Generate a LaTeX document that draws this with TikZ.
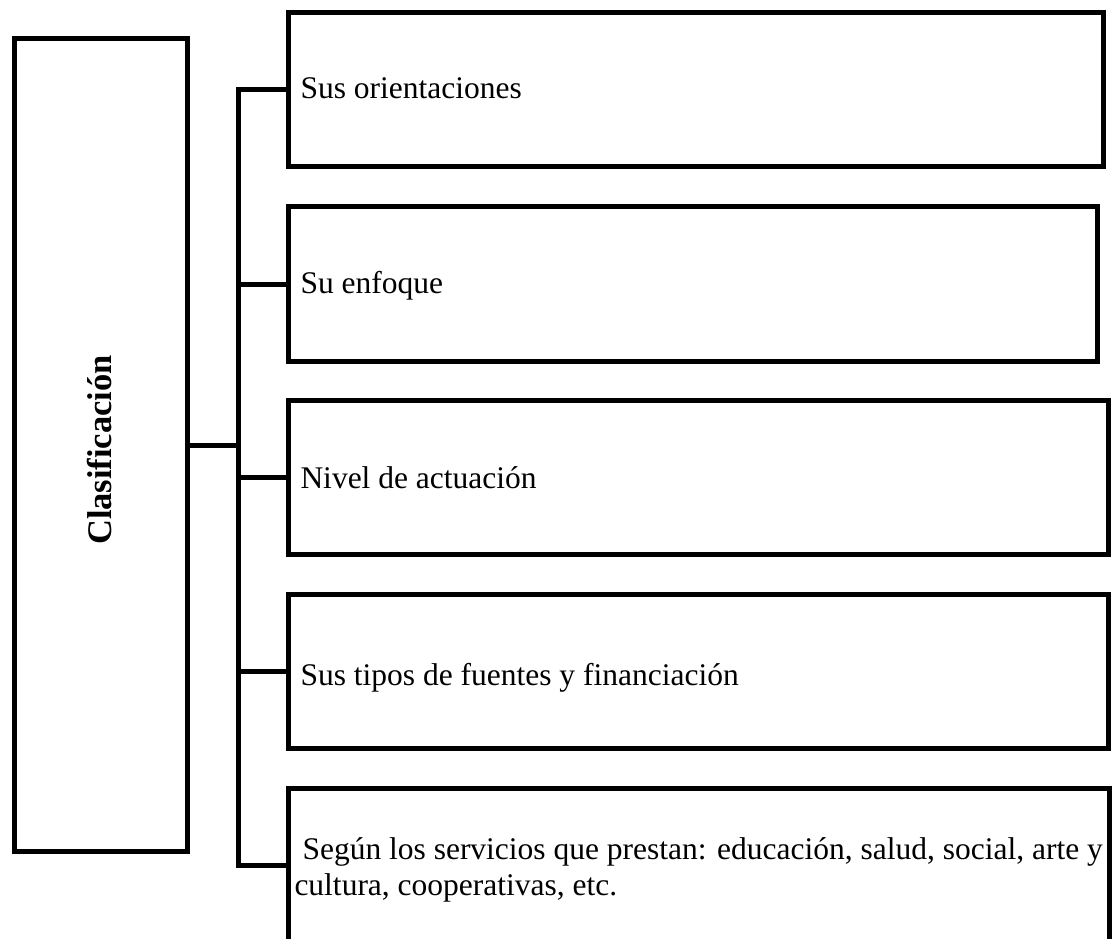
\documentclass[tikz,border=0pt]{standalone}
\usepackage{fontspec}
\setmainfont{Liberation Serif}
\begin{document}
\begin{tikzpicture}[x=1pt,y=-1pt,line width=5pt,
  box/.style={draw,rectangle,inner sep=0pt,outer sep=0pt,anchor=north west},
  lbl/.style={inner sep=0pt,anchor=base west,font=\fontsize{31.5}{36}\selectfont}]

\useasboundingbox (0,0) rectangle (1112,939);
\clip (0,0) rectangle (1112,939);

%%%% root
%%%%
\node[box,minimum width=173pt,minimum height=812pt](c) at(14,39) {};
\node[rotate=90,inner sep=0pt,font=\fontsize{34.5}{36}\selectfont\bfseries](ct) at(100,450) {Clasificación};

%%%% boxes
%%%%
\foreach[count=\i] \y \w in{
13/815,207/809,400/820,594/820,788/821%
}{
\node[box,minimum width=\w pt,minimum height=154pt](\i) at(288,\y) {};
}

\foreach[count=\i] \y \t in{
99/Sus orientaciones,293/Su enfoque,488/Nivel de actuación,685/Sus tipos de fuentes y financiación%
}{
\node[lbl](t\i) at(298,\y) {\t};
}
\node[lbl,anchor=north west,align=left](t5) at(292,835) {\hspace{8pt}Según los servicios que prestan: educación, salud, social, arte y\\cultura, cooperativas, etc.};

%%%% lines
%%%%
\coordinate(sp) at(238,445);
\draw (c.east) -- (sp);
\draw (1.west) -- (sp |- 1.west) -- (sp |- 5.west) -- (5.west);
\foreach \v in{2,3,4}{
\draw (sp |- \v.west) -- (\v.west);
}

\end{tikzpicture}
\end{document}
